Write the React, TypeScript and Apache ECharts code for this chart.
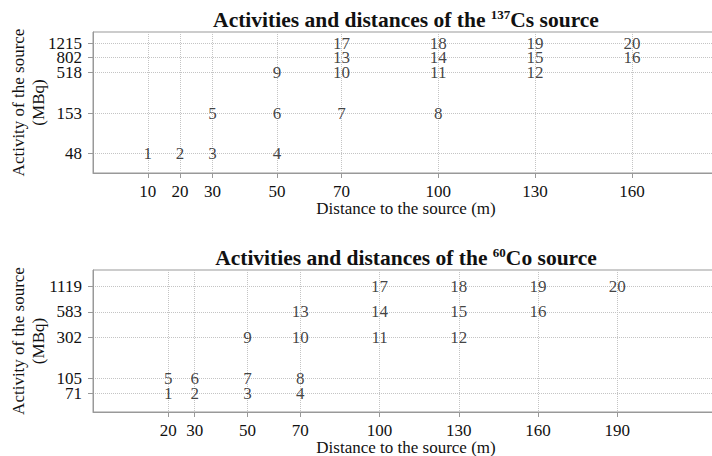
import React, { useEffect, useRef } from 'react';
import * as echarts from 'echarts';

// ---- Data ----
const pointIds = [1, 2, 3, 4, 5, 6, 7, 8, 9, 10, 11, 12, 13, 14, 15, 16, 17, 18, 19, 20];

const csDistances = [10, 20, 30, 50, 30, 50, 70, 100, 50, 70, 100, 130, 70, 100, 130, 160, 70, 100, 130, 160];
const csActivities = [48, 48, 48, 48, 153, 153, 153, 153, 518, 518, 518, 518, 802, 802, 802, 802, 1215, 1215, 1215, 1215];
const csDistanceTicks = [10, 20, 30, 50, 70, 100, 130, 160];
// activity tick labels (split in two sets so that closely spaced labels are all kept)
const csActivityTicks = [48, 153, 518, 1215];
const csActivityTicksExtra = [802];

const coDistances = [20, 30, 50, 70, 20, 30, 50, 70, 50, 70, 100, 130, 70, 100, 130, 160, 100, 130, 160, 190];
const coActivities = [71, 71, 71, 71, 105, 105, 105, 105, 302, 302, 302, 302, 583, 583, 583, 583, 1119, 1119, 1119, 1119];
const coDistanceTicks = [20, 30, 50, 70, 100, 130, 160, 190];
const coActivityTicks = [105, 302, 583, 1119];
const coActivityTicksExtra = [71];

const FONT = '"Liberation Serif", "DejaVu Serif", serif';
const TEXT = '#111';
const AXIS = '#999';
const GRIDC = '#c4c4c4';
const FS = 17;

function makeX(gridIndex: number, min: number, max: number, ticks: number[], nameGap: number) {
  return {
    type: 'value',
    gridIndex,
    min,
    max,
    name: 'Distance to the source (m)',
    nameLocation: 'middle',
    nameGap,
    nameMoveOverlap: false,
    nameTextStyle: { fontSize: FS, color: TEXT, fontFamily: FONT, lineHeight: 17, verticalAlign: 'top' },
    axisLine: { show: true, onZero: false, lineStyle: { color: AXIS, width: 1 } },
    axisTick: { show: true, customValues: ticks, length: 5, lineStyle: { color: AXIS } },
    axisLabel: {
      customValues: ticks,
      fontSize: FS,
      color: TEXT,
      fontFamily: FONT,
      margin: 10,
      showMinLabel: true,
      showMaxLabel: true,
      hideOverlap: false,
    },
    splitLine: { show: true, lineStyle: { color: GRIDC, type: 'dotted', width: 1 } },
  };
}

function makeY(gridIndex: number, min: number, max: number, ticks: number[], withName: boolean) {
  return {
    type: 'log',
    logBase: 10,
    gridIndex,
    position: 'left',
    offset: 0,
    min,
    max,
    name: withName ? 'Activity of the source\n(MBq)' : '',
    nameLocation: 'middle',
    nameGap: 45,
    nameMoveOverlap: false,
    nameTextStyle: { fontSize: FS, color: TEXT, fontFamily: FONT, lineHeight: 20 },
    axisLine: { show: withName, onZero: false, lineStyle: { color: AXIS, width: 1 } },
    axisTick: { show: true, customValues: ticks, length: 5, lineStyle: { color: AXIS } },
    axisLabel: {
      customValues: ticks,
      fontSize: FS,
      color: TEXT,
      fontFamily: FONT,
      margin: 11,
      showMinLabel: true,
      showMaxLabel: true,
      hideOverlap: false,
      formatter: (v: number) => String(Math.round(v)),
    },
    splitLine: { show: true, lineStyle: { color: GRIDC, type: 'dotted', width: 1 } },
  };
}

function makeSeries(xIdx: number, yIdx: number, xs: number[], ys: number[]) {
  return {
    type: 'scatter',
    xAxisIndex: xIdx,
    yAxisIndex: yIdx,
    symbolSize: 1,
    itemStyle: { color: 'transparent' },
    label: {
      show: true,
      position: 'inside',
      formatter: (p: any) => String(p.value[2]),
      fontSize: FS,
      color: TEXT,
      fontFamily: FONT,
    },
    labelLayout: { hideOverlap: false },
    emphasis: { disabled: true },
    data: xs.map((x, i) => [x, ys[i], pointIds[i]]),
  };
}

function titleText(x: number, y: number, sup: string, el: string) {
  return {
    type: 'text',
    x,
    y,
    style: {
      text: `{b|Activities and distances of the }{s|${sup}}{b|${el} source}`,
      align: 'center',
      verticalAlign: 'top',
      rich: {
        b: { fontSize: 21.5, fontWeight: 'bold', fontFamily: FONT, fill: TEXT, color: TEXT },
        s: {
          fontSize: 13,
          fontWeight: 'bold',
          fontFamily: FONT,
          fill: TEXT,
          color: TEXT,
          verticalAlign: 'top',
          padding: [0, 0, 10, 0],
        },
      },
    },
  };
}

const gridBase = {
  left: 93,
  right: -7,
  show: true,
  borderColor: AXIS,
  borderWidth: 1,
  backgroundColor: 'transparent',
  containLabel: false,
  outerBoundsMode: 'none',
};

export default function App() {
  const ref = useRef<HTMLDivElement>(null);
  useEffect(() => {
    document.body.style.margin = '0';
    document.body.style.overflow = 'hidden';
    if (!ref.current) return;
    const chart = echarts.init(ref.current, undefined, { renderer: 'svg' });
    chart.setOption({
      animation: false,
      backgroundColor: '#fff',
      grid: [
        { ...gridBase, top: 32, height: 141 },
        { ...gridBase, top: 270, height: 142 },
      ],
      xAxis: [makeX(0, -7, 187, csDistanceTicks, 27), makeX(1, -8.5, 228.5, coDistanceTicks, 26.5)],
      yAxis: [
        makeY(0, 26.7, 1694, csActivityTicks, true),
        makeY(0, 26.7, 1694, csActivityTicksExtra, false),
        makeY(1, 44.1, 1723, coActivityTicks, true),
        makeY(1, 44.1, 1723, coActivityTicksExtra, false),
      ],
      series: [makeSeries(0, 0, csDistances, csActivities), makeSeries(1, 2, coDistances, coActivities)],
      graphic: [titleText(406, 8, '137', 'Cs'), titleText(406, 246, '60', 'Co')],
    });
    return () => chart.dispose();
  }, []);
  return <div ref={ref} style={{ width: 712, height: 456 }} />;
}
